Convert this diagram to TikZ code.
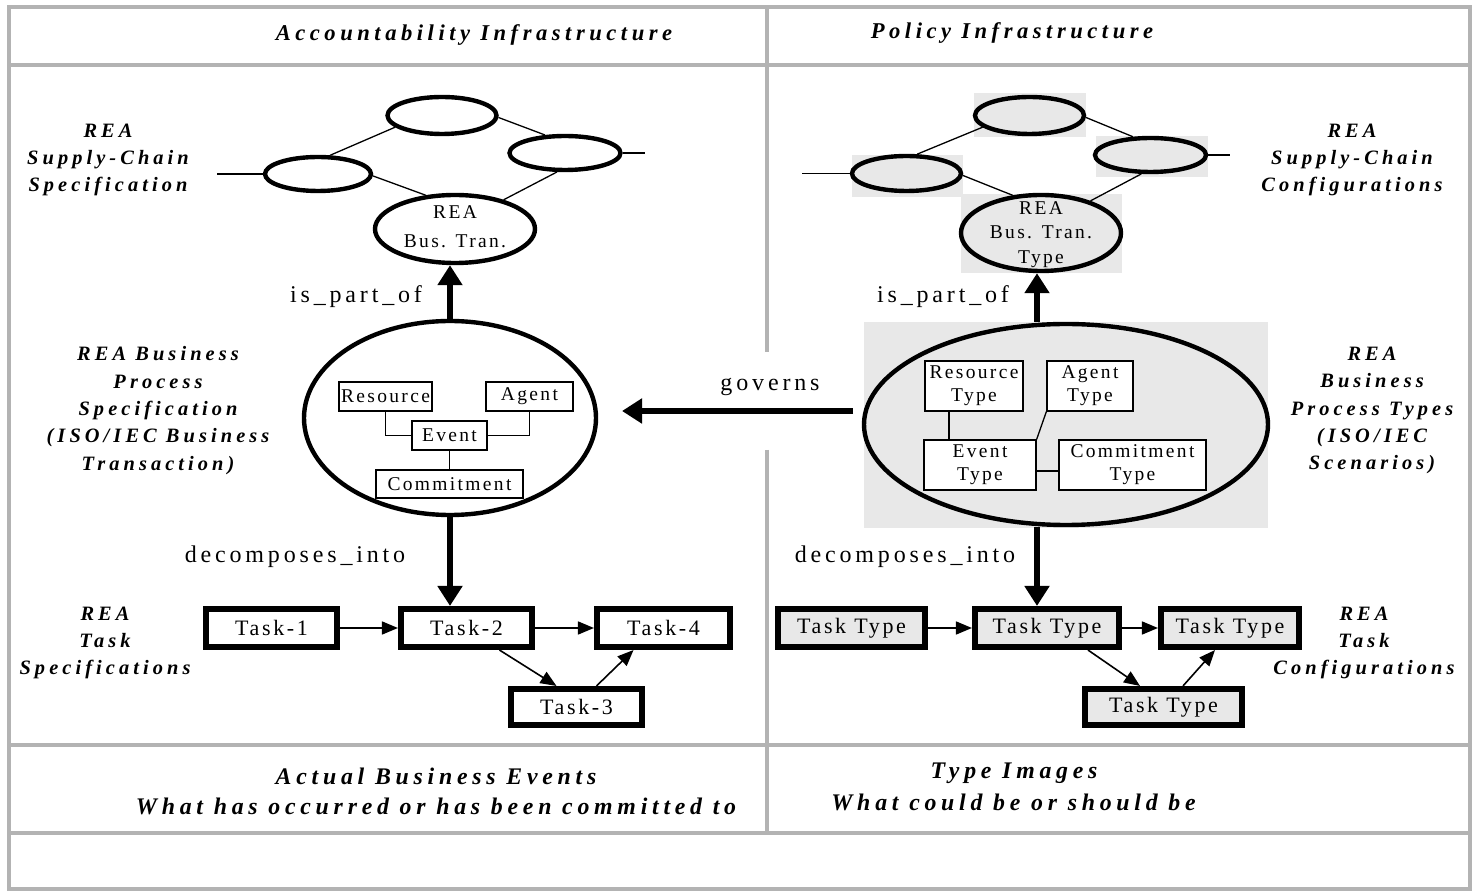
\documentclass[tikz,border=0pt]{standalone}
\usepackage{fontspec}
\setmainfont{Liberation Serif}
\newfontfamily\lblfont[LetterSpace=20,Ligatures=NoCommon]{Liberation Serif}
\newfontfamily\regfont[LetterSpace=16,Ligatures=NoCommon]{Liberation Serif}
\newfontfamily\boxfont[LetterSpace=12,Ligatures=NoCommon]{Liberation Serif}
\usetikzlibrary{shapes.geometric,arrows.meta,calc}
\definecolor{framegray}{HTML}{B3B3B3}
\definecolor{shade}{HTML}{E8E8E8}
\begin{document}
\begin{tikzpicture}[x=0.5pt,y=-0.5pt,
  frame/.style={draw=framegray, line width=2.25pt},
  ell/.style={draw, ellipse, line width=2.2pt, inner sep=0pt},
  ellg/.style={ell, fill=shade},
  bgrect/.style={rectangle, fill=shade, inner sep=0pt},
  ebox/.style={draw, rectangle, line width=0.65pt, inner sep=0pt, align=center, fill=white, font=\boxfont\fontsize{9.75}{11.5}\selectfont},
  etext/.style={inner sep=0pt, align=center, font=\boxfont\fontsize{9.75}{14.5}\selectfont},
  etextb/.style={inner sep=0pt, align=center, font=\boxfont\fontsize{9.75}{12.25}\selectfont},
  task/.style={draw, rectangle, line width=2.8pt, inner sep=0pt, fill=white, font=\boxfont\fontsize{11}{13}\selectfont},
  taskg/.style={task, fill=shade},
  thin/.style={line width=0.65pt},
  thinarrow/.style={line width=0.8pt, -{Triangle[length=8pt,width=6.5pt]}},
  bigarrow/.style={line width=2.75pt, -{Triangle[length=10pt,width=12pt]}},
  lbl/.style={align=center, inner sep=0pt, font=\lblfont\bfseries\itshape\fontsize{10.2}{13.7}\selectfont},
  hdr/.style={inner sep=0pt, font=\lblfont\bfseries\itshape\fontsize{11.3}{13}\selectfont},
  bot/.style={inner sep=0pt, font=\lblfont\bfseries\itshape\fontsize{11.9}{14}\selectfont},
  rel/.style={inner sep=0pt, font=\regfont\fontsize{12}{14}\selectfont}
]
\fill[white] (0,0) rectangle (1473,892);
\useasboundingbox (0,0) rectangle (1473,892);

% frame
\draw[frame] (9,7) rectangle (1470,889);
\draw[frame] (9,65) -- (1470,65);
\draw[frame] (9,745) -- (1470,745);
\draw[frame] (9,833) -- (1470,833);
\draw[frame] (767,7) -- (767,352);
\draw[frame] (767,450) -- (767,833);

% headers
\node[hdr] (h1) at (474,35) {Accountability Infrastructure};
\node[hdr] (h2) at (1012,33) {Policy Infrastructure};

% side labels
\node[lbl] (sc1) at (108,160) {REA\\Supply-Chain\\Specification};
\node[lbl] (bp1) at (158,410.5) {REA Business\\Process\\Specification\\(ISO/IEC Business\\Transaction)};
\node[lbl] (ts1) at (105,643) {REA\\Task\\Specifications};
\node[lbl] (sc2) at (1352,160) {REA\\Supply-Chain\\Configurations};
\node[lbl] (bp2) at (1372,410.5) {REA\\Business\\Process Types\\(ISO/IEC\\Scenarios)};
\node[lbl] (ts2) at (1364,643) {REA\\Task\\Configurations};

% bottom texts
\node[bot] (b1) at (436,776) {Actual Business Events};
\node[bot] (b2) at (436,806) {What has occurred or has been committed to};
\node[bot] (b3) at (1014,773) {Type Images};
\node[bot] (b4) at (1013.5,802) {What could be or should be};

% grey backgrounds (right side)
\node[bgrect, minimum width=202pt, minimum height=103pt] (rbigbg) at (1066,425) {};
\node[bgrect, minimum width=56pt, minimum height=22pt] (rtbg) at (1030,115) {};
\node[bgrect, minimum width=55.5pt, minimum height=21pt] (rlbg) at (907.5,176) {};
\node[bgrect, minimum width=56pt, minimum height=20.5pt] (rrbg) at (1152,156.5) {};
\node[bgrect, minimum width=80.5pt, minimum height=39.5pt] (rbbg) at (1041.5,233.5) {};

% left ellipses
\node[ell, minimum width=54.5pt, minimum height=18.5pt] (lt) at (442,115.5) {};
\node[ell, minimum width=53pt, minimum height=17pt] (ll) at (318,174) {};
\node[ell, minimum width=55.5pt, minimum height=17pt] (lr) at (565,153) {};
\node[ell, minimum width=80pt, minimum height=34pt] (lb) at (455,229) {};
\node[etext] (lbT) at (455,227) {REA\\Bus. Tran.};
\node[ell, minimum width=146pt, minimum height=97pt] (lbig) at (450,418) {};

% right ellipses
\node[ellg, minimum width=54.5pt, minimum height=18.5pt] (rt) at (1029.5,115.5) {};
\node[ellg, minimum width=54.5pt, minimum height=17.5pt] (rl) at (906.5,173.5) {};
\node[ellg, minimum width=55.5pt, minimum height=17pt] (rr) at (1150.5,155) {};
\node[ellg, minimum width=80pt, minimum height=38pt] (rb) at (1041,233) {};
\node[etextb] (rbT) at (1041,234.5) {REA\\Bus. Tran.\\Type};
\node[ellg, minimum width=202pt, minimum height=100.5pt] (rbig) at (1066,424.5) {};

% free ends
\coordinate (llf) at (217,174);
\coordinate (lrf) at (645,153);
\coordinate (rlf) at (802,173.5);
\coordinate (rrf) at (1230,155);
\coordinate (gvS) at (853,411);
\coordinate (gvE) at (622,411);
\coordinate (rax) at (1037,0);

% supply-chain connectors
\draw[thin] (llf) -- (ll.west);
\draw[thin] (lr.east) -- (lrf);
\draw[thin] (ll.57) -- (lt.194);
\draw[thin] (lt.-2) -- (lr.138);
\draw[thin] (ll.-2) -- (lb.131);
\draw[thin] (lr.247) -- (lb.31);
\draw[thin] (rlf) -- (rl.west);
\draw[thin] (rr.east) -- (rrf);
\draw[thin] (rl.61) -- (rt.194);
\draw[thin] (rt.-2) -- (rr.134);
\draw[thin] (rl.-2) -- (rb.127);
\draw[thin] (rr.244) -- (rb.33);

% left inner boxes
\node[ebox, minimum width=46.5pt, minimum height=14.5pt] (res) at (385.5,396.5) {Resource};
\node[ebox, minimum width=43.5pt, minimum height=14.5pt] (agt) at (529.5,396.5) {Agent};
\node[ebox, minimum width=37.5pt, minimum height=14.5pt] (evt) at (449.5,435.5) {Event};
\node[ebox, minimum width=73.5pt, minimum height=14pt] (com) at (449.5,484) {Commitment};
\draw[thin] (res.south) |- (evt.west);
\draw[thin] (agt.south) |- (evt.east);
\draw[thin] (evt.south) -- (com.north);

% right inner boxes
\node[ebox, minimum width=49pt, minimum height=25pt] (rres) at (974,386) {Resource\\Type};
\node[ebox, minimum width=43pt, minimum height=25pt] (ragt) at (1090,386) {Agent\\Type};
\node[ebox, minimum width=56pt, minimum height=25pt] (revt) at (980,465) {Event\\Type};
\node[ebox, minimum width=73.5pt, minimum height=25pt] (rcom) at (1132.5,465) {Commitment\\Type};
\coordinate (rresb) at ($(rres.south)+(-25,0)$);
\draw[thin] (rresb) -- (rresb |- revt.north);
\draw[thin] (ragt.south west) -- (revt.north east);
\draw[thin] ($(revt.east)+(0,6)$) -- ($(rcom.west)+(0,6)$);

% tasks
\node[task, minimum width=65.75pt, minimum height=19.25pt] (t1) at (271.5,628) {Task-1};
\node[task, minimum width=65.75pt, minimum height=19.25pt] (t2) at (466.5,628) {Task-2};
\node[task, minimum width=66.75pt, minimum height=19.25pt] (t4) at (663.5,628) {Task-4};
\node[task, minimum width=65.75pt, minimum height=18.25pt] (t3) at (576.5,707) {Task-3};
\node[taskg, minimum width=73.75pt, minimum height=19.25pt] (u1) at (851.5,628) {Task Type};
\node[taskg, minimum width=72.25pt, minimum height=19.25pt] (u2) at (1047,628) {Task Type};
\node[taskg, minimum width=69.25pt, minimum height=19.25pt] (u3) at (1230,628) {Task Type};
\node[taskg, minimum width=78.75pt, minimum height=18.25pt] (u4) at (1163.5,707) {Task Type};

\draw[thinarrow] (t1) -- (t2);
\draw[thinarrow] (t2) -- (t4);
\draw[thinarrow] ($(t2.south)+(33,0)$) -- ($(t3.north)+(-20,0)$);
\draw[thinarrow] ($(t3.north)+(20,0)$) -- ($(t4.south)+(-30,0)$);
\draw[thinarrow] (u1) -- (u2);
\draw[thinarrow] (u2) -- (u3);
\draw[thinarrow] ($(u2.south)+(41,0)$) -- ($(u4.north)+(-23.5,0)$);
\draw[thinarrow] ($(u4.north)+(19.5,0)$) -- ($(u3.south)+(-15,0)$);

% thick relation arrows
\draw[bigarrow] (lbig.north) -- (lbig.north |- lb.south);
\draw[bigarrow] (lbig.south) -- (lbig.south |- t2.north);
\draw[bigarrow] (rax |- rbig.north) -- (rax |- rb.south);
\draw[bigarrow] (rax |- rbig.south) -- (rax |- u2.north);
\draw[bigarrow] (gvS) -- (gvE);

% relation labels
\node[rel] (ipo1) at (356,297) {is\_part\_of};
\node[rel] (ipo2) at (943,297) {is\_part\_of};
\node[rel] (dec1) at (295,557) {decomposes\_into};
\node[rel] (dec2) at (905,557) {decomposes\_into};
\node[rel] (gov) at (770,387) {governs};
\end{tikzpicture}
\end{document}
